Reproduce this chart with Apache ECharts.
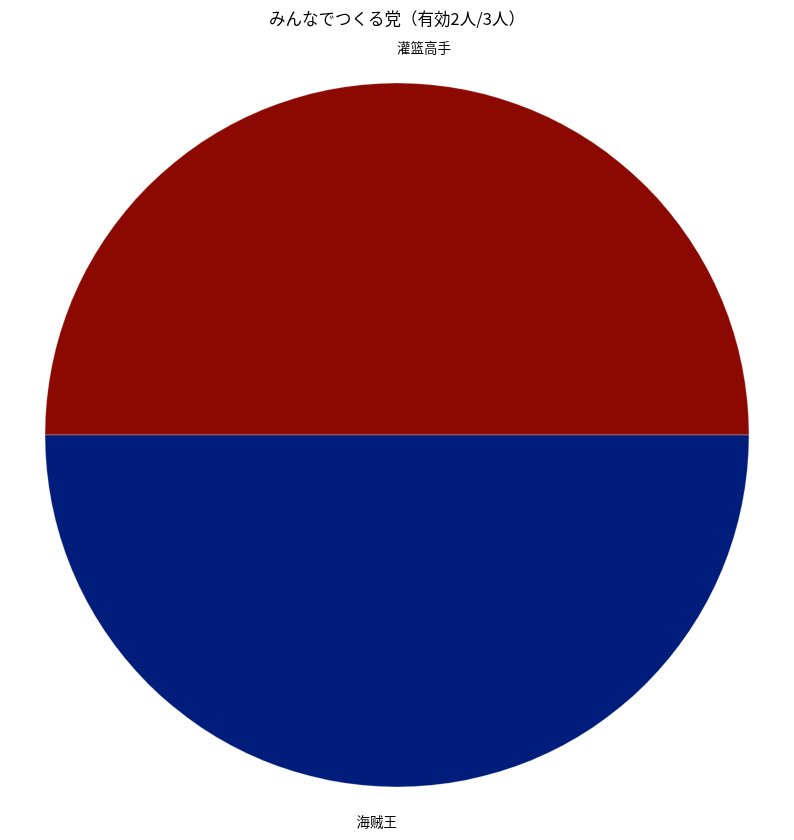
<!DOCTYPE html>
<html>
	<head>
		<meta charset="utf-8">
		<title></title>
		<style type="text/css">
			* {
				margin: 0;
				padding: 0;
			}

			html,
			body {
				width: 100%;
				height: 100%;
				background: #fff;
			}

			#main {
				width: 794px;
				height: 840px;
			}
		</style>
	</head>
	<body>
		<div id="main"></div>
		<script src="https://cdn.jsdelivr.net/npm/echarts@6/dist/echarts.min.js"></script>
		<script>
			var titleText = 'みんなでつくる党（有効2人/3人）'
			var names = ['灌篮高手', '海贼王']
			var values = [1, 1]
			var colors = ['#8b0900', '#001d7c']

			var piedata = []
			for (let i = 0; i < names.length; i++) {
				piedata.push({
					name: names[i],
					value: values[i],
					itemStyle: {
						color: colors[i]
					}
				})
			}

			var myChart = echarts.init(document.getElementById('main'));
			var option = {
				animation: false,
				title: {
					text: titleText,
					left: 'center',
					top: 5,
					textStyle: {
						fontFamily: 'Noto Sans CJK JP',
						fontWeight: 'normal',
						fontSize: 16.5,
						color: '#000'
					}
				},
				series: [{
					type: 'pie',
					center: [397, 435],
					radius: [0, 352],
					startAngle: 0,
					clockwise: false,
					avoidLabelOverlap: false,
					data: piedata,
					itemStyle: {
						borderWidth: 0.6,
						borderColor: 'rgba(255,255,255,0.5)'
					},
					label: {
						show: true,
						position: 'outside',
						fontFamily: 'Noto Sans CJK JP',
						fontSize: 13.5,
						color: '#000',
						distanceToLabelLine: 0
					},
					labelLine: {
						show: false,
						length: 35,
						length2: 0
					},
					emphasis: {
						disabled: true
					}
				}]
			};
			myChart.setOption(option);
		</script>
	</body>
</html>
